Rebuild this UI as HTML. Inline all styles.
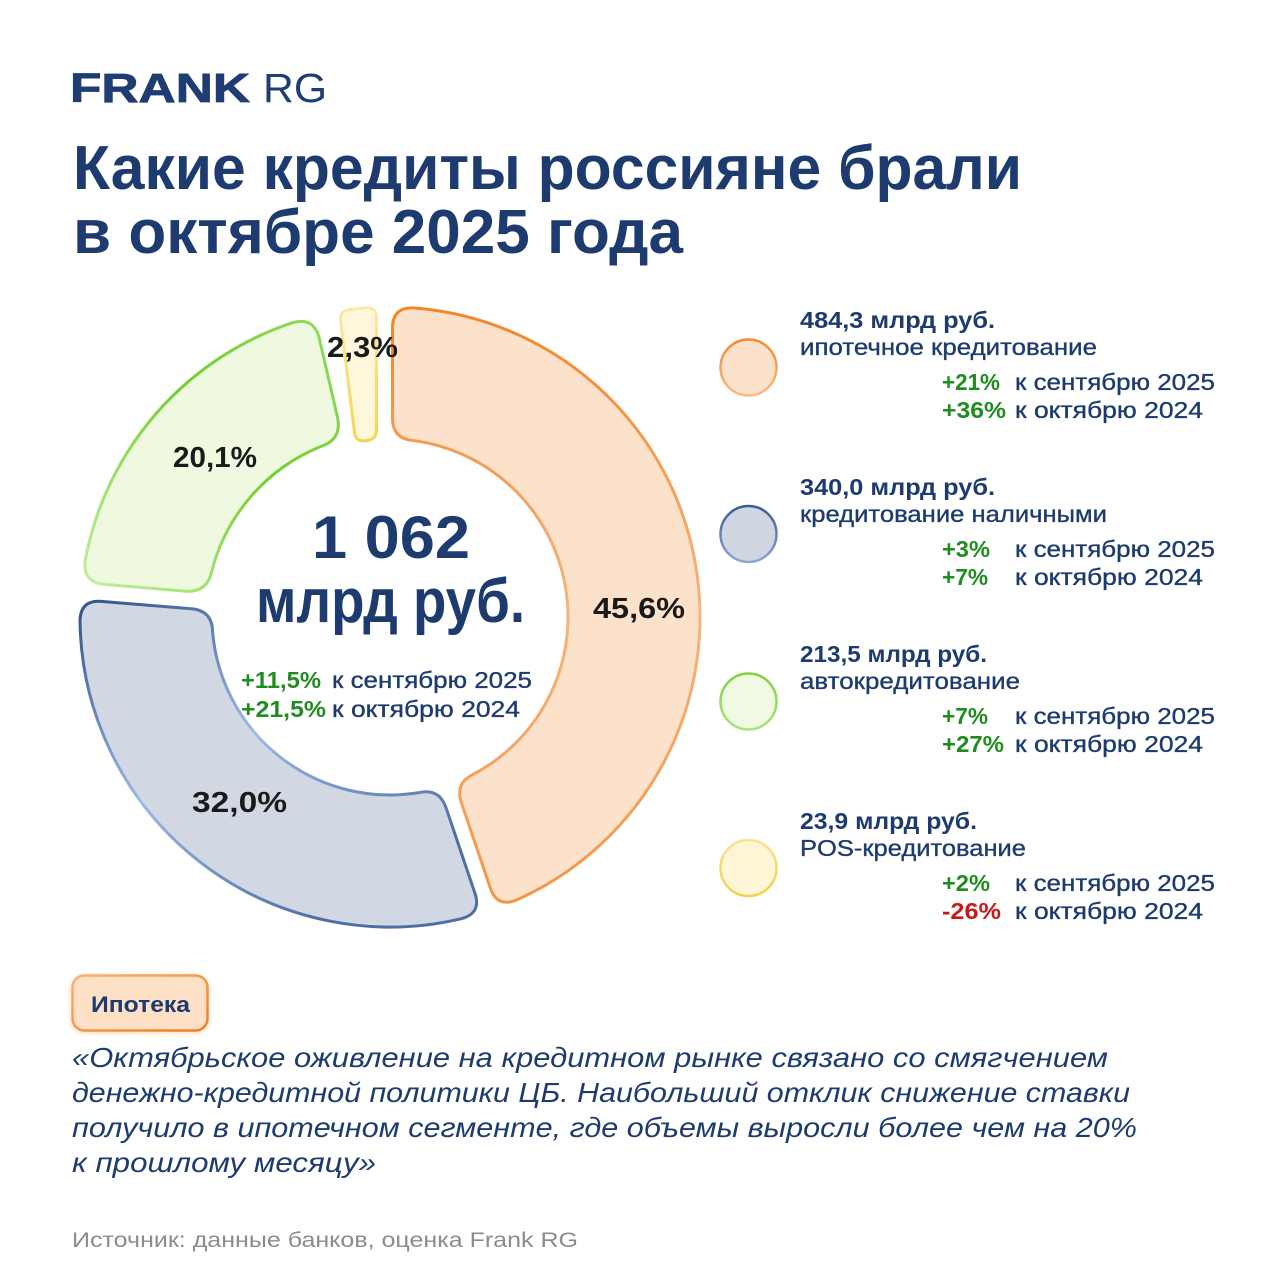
<!DOCTYPE html>
<html>
<head>
<meta charset="utf-8">
<style>
html,body{margin:0;padding:0;background:#ffffff;}
svg{display:block;}
text{font-family:"Liberation Sans","DejaVu Sans",sans-serif;}
.m{stroke:#1d3b6f;stroke-width:0.35;}
</style>
</head>
<body>
<svg id="s" width="1280" height="1280" viewBox="0 0 1280 1280" xmlns="http://www.w3.org/2000/svg">
<defs>
  <linearGradient id="gO" gradientUnits="userSpaceOnUse" x1="0" y1="305" x2="0" y2="915">
    <stop offset="0" stop-color="#f0862a"/>
    <stop offset="0.5" stop-color="#f7b47e"/>
    <stop offset="1" stop-color="#f29442"/>
  </linearGradient>
  <linearGradient id="gB" gradientUnits="userSpaceOnUse" x1="100" y1="600" x2="300" y2="930">
    <stop offset="0" stop-color="#35558c"/>
    <stop offset="0.5" stop-color="#9db9e6"/>
    <stop offset="1" stop-color="#4f6ea3"/>
  </linearGradient>
  <linearGradient id="gG" gradientUnits="userSpaceOnUse" x1="90" y1="590" x2="330" y2="340">
    <stop offset="0" stop-color="#c2ee9e"/>
    <stop offset="0.6" stop-color="#72cd2e"/>
    <stop offset="1" stop-color="#8fd95a"/>
  </linearGradient>
  <linearGradient id="gY" gradientUnits="userSpaceOnUse" x1="0" y1="308" x2="0" y2="442">
    <stop offset="0" stop-color="#fbe9a4"/>
    <stop offset="1" stop-color="#f4d44e"/>
  </linearGradient>
  <linearGradient id="cO" x1="0" y1="0" x2="0" y2="1">
    <stop offset="0" stop-color="#f08a2e"/><stop offset="1" stop-color="#f8bb8c"/>
  </linearGradient>
  <linearGradient id="cB" x1="0" y1="0" x2="0" y2="1">
    <stop offset="0" stop-color="#3c5c92"/><stop offset="1" stop-color="#8aa6d6"/>
  </linearGradient>
  <linearGradient id="cG" x1="0" y1="0" x2="0" y2="1">
    <stop offset="0" stop-color="#7fd23e"/><stop offset="1" stop-color="#a8e378"/>
  </linearGradient>
  <linearGradient id="cY" x1="0" y1="0" x2="0" y2="1">
    <stop offset="0" stop-color="#f7e48e"/><stop offset="1" stop-color="#f2d048"/>
  </linearGradient>
  <linearGradient id="bg" x1="0" y1="0" x2="1" y2="1">
    <stop offset="0" stop-color="#f6b27a"/><stop offset="1" stop-color="#ef7f1e"/>
  </linearGradient>
  <filter id="sh" x="-20%" y="-30%" width="140%" height="160%">
    <feDropShadow dx="0" dy="1" stdDeviation="2" flood-color="#f08a2e" flood-opacity="0.35"/>
  </filter>
</defs>

<!-- Logo -->
<text x="70" y="102" font-size="41" font-weight="bold" fill="#1f3d72" stroke="#1f3d72" stroke-width="0.8" textLength="180" lengthAdjust="spacingAndGlyphs">FRANK</text>
<text x="263" y="102" font-size="41" font-weight="normal" fill="#1f3d72" textLength="64" lengthAdjust="spacingAndGlyphs">RG</text>

<!-- Title -->
<text x="73" y="189" font-size="62" font-weight="bold" fill="#1d3b6f" textLength="949" lengthAdjust="spacingAndGlyphs">Какие кредиты россияне брали</text>
<text x="73" y="253" font-size="62" font-weight="bold" fill="#1d3b6f" textLength="610" lengthAdjust="spacingAndGlyphs">в октябре 2025 года</text>

<!-- Donut segments -->
<path id="pO" fill="#fde2cb" stroke="url(#gO)" stroke-width="3"/>
<path id="pB" fill="#d1d8e3" stroke="url(#gB)" stroke-width="3"/>
<path id="pG" fill="#eef9df" stroke="url(#gG)" stroke-width="3"/>
<path id="pY" fill="#fff7db" stroke="url(#gY)" stroke-width="3"/>

<!-- Donut labels -->
<text x="593" y="618" font-size="29" font-weight="bold" fill="#1a1a1a" textLength="92" lengthAdjust="spacingAndGlyphs">45,6%</text>
<text x="192" y="812" font-size="29" font-weight="bold" fill="#1a1a1a" textLength="95" lengthAdjust="spacingAndGlyphs">32,0%</text>
<text x="173" y="467" font-size="29" font-weight="bold" fill="#1a1a1a" textLength="84" lengthAdjust="spacingAndGlyphs">20,1%</text>
<text x="327" y="357" font-size="29" font-weight="bold" fill="#1a1a1a" textLength="71" lengthAdjust="spacingAndGlyphs">2,3%</text>

<!-- Center -->
<text x="312" y="558" font-size="60" font-weight="bold" fill="#1d3b6f" textLength="158" lengthAdjust="spacingAndGlyphs">1 062</text>
<text x="256" y="622" font-size="62" font-weight="bold" fill="#1d3b6f" textLength="269" lengthAdjust="spacingAndGlyphs">млрд руб.</text>
<text x="241" y="688" font-size="23" font-weight="bold" fill="#1e8c1e" textLength="80" lengthAdjust="spacingAndGlyphs">+11,5%</text>
<text class="m" x="332" y="688" font-size="23" fill="#1d3b6f" textLength="200" lengthAdjust="spacingAndGlyphs">к сентябрю 2025</text>
<text x="241" y="717" font-size="23" font-weight="bold" fill="#1e8c1e" textLength="85" lengthAdjust="spacingAndGlyphs">+21,5%</text>
<text class="m" x="332" y="717" font-size="23" fill="#1d3b6f" textLength="188" lengthAdjust="spacingAndGlyphs">к октябрю 2024</text>

<!-- Legend circles -->
<circle cx="748.5" cy="367.5" r="28" fill="#fde2cb" stroke="url(#cO)" stroke-width="2.5"/>
<circle cx="748.5" cy="534" r="28" fill="#cfd6e2" stroke="url(#cB)" stroke-width="2.5"/>
<circle cx="748.5" cy="701.5" r="28" fill="#f0fae3" stroke="url(#cG)" stroke-width="2.5"/>
<circle cx="748.5" cy="868" r="28" fill="#fff6d8" stroke="url(#cY)" stroke-width="2.5"/>

<!-- Legend block 1 -->
<text x="800" y="328" font-size="23" font-weight="bold" fill="#1d3b6f" textLength="195" lengthAdjust="spacingAndGlyphs">484,3 млрд руб.</text>
<text class="m" x="800" y="355" font-size="23" fill="#1d3b6f" textLength="297" lengthAdjust="spacingAndGlyphs">ипотечное кредитование</text>
<text x="942" y="390" font-size="23" font-weight="bold" fill="#1e8c1e" textLength="58" lengthAdjust="spacingAndGlyphs">+21%</text>
<text class="m" x="1015" y="390" font-size="23" fill="#1d3b6f" textLength="200" lengthAdjust="spacingAndGlyphs">к сентябрю 2025</text>
<text x="942" y="418" font-size="23" font-weight="bold" fill="#1e8c1e" textLength="64" lengthAdjust="spacingAndGlyphs">+36%</text>
<text class="m" x="1015" y="418" font-size="23" fill="#1d3b6f" textLength="188" lengthAdjust="spacingAndGlyphs">к октябрю 2024</text>

<!-- Legend block 2 -->
<text x="800" y="495" font-size="23" font-weight="bold" fill="#1d3b6f" textLength="195" lengthAdjust="spacingAndGlyphs">340,0 млрд руб.</text>
<text class="m" x="800" y="522" font-size="23" fill="#1d3b6f" textLength="307" lengthAdjust="spacingAndGlyphs">кредитование наличными</text>
<text x="942" y="557" font-size="23" font-weight="bold" fill="#1e8c1e" textLength="48" lengthAdjust="spacingAndGlyphs">+3%</text>
<text class="m" x="1015" y="557" font-size="23" fill="#1d3b6f" textLength="200" lengthAdjust="spacingAndGlyphs">к сентябрю 2025</text>
<text x="942" y="585" font-size="23" font-weight="bold" fill="#1e8c1e" textLength="46" lengthAdjust="spacingAndGlyphs">+7%</text>
<text class="m" x="1015" y="585" font-size="23" fill="#1d3b6f" textLength="188" lengthAdjust="spacingAndGlyphs">к октябрю 2024</text>

<!-- Legend block 3 -->
<text x="800" y="662" font-size="23" font-weight="bold" fill="#1d3b6f" textLength="187" lengthAdjust="spacingAndGlyphs">213,5 млрд руб.</text>
<text class="m" x="800" y="689" font-size="23" fill="#1d3b6f" textLength="220" lengthAdjust="spacingAndGlyphs">автокредитование</text>
<text x="942" y="724" font-size="23" font-weight="bold" fill="#1e8c1e" textLength="46" lengthAdjust="spacingAndGlyphs">+7%</text>
<text class="m" x="1015" y="724" font-size="23" fill="#1d3b6f" textLength="200" lengthAdjust="spacingAndGlyphs">к сентябрю 2025</text>
<text x="942" y="752" font-size="23" font-weight="bold" fill="#1e8c1e" textLength="62" lengthAdjust="spacingAndGlyphs">+27%</text>
<text class="m" x="1015" y="752" font-size="23" fill="#1d3b6f" textLength="188" lengthAdjust="spacingAndGlyphs">к октябрю 2024</text>

<!-- Legend block 4 -->
<text x="800" y="829" font-size="23" font-weight="bold" fill="#1d3b6f" textLength="177" lengthAdjust="spacingAndGlyphs">23,9 млрд руб.</text>
<text class="m" x="800" y="856" font-size="23" fill="#1d3b6f" textLength="226" lengthAdjust="spacingAndGlyphs">POS-кредитование</text>
<text x="942" y="891" font-size="23" font-weight="bold" fill="#1e8c1e" textLength="48" lengthAdjust="spacingAndGlyphs">+2%</text>
<text class="m" x="1015" y="891" font-size="23" fill="#1d3b6f" textLength="200" lengthAdjust="spacingAndGlyphs">к сентябрю 2025</text>
<text x="942" y="919" font-size="23" font-weight="bold" fill="#c81818" textLength="59" lengthAdjust="spacingAndGlyphs">-26%</text>
<text class="m" x="1015" y="919" font-size="23" fill="#1d3b6f" textLength="188" lengthAdjust="spacingAndGlyphs">к октябрю 2024</text>

<!-- Badge -->
<rect x="72.5" y="975.5" width="135" height="55" rx="12" ry="12" fill="#fde0c6" stroke="url(#bg)" stroke-width="2.5" filter="url(#sh)"/>
<text x="91" y="1012" font-size="22" font-weight="bold" fill="#1d3b6f" textLength="99" lengthAdjust="spacingAndGlyphs">Ипотека</text>

<!-- Quote -->
<text x="72" y="1067" font-size="28" font-style="italic" fill="#1d3b6f" textLength="1036" lengthAdjust="spacingAndGlyphs">«Октябрьское оживление на кредитном рынке связано со смягчением</text>
<text x="72" y="1102" font-size="28" font-style="italic" fill="#1d3b6f" textLength="1058" lengthAdjust="spacingAndGlyphs">денежно-кредитной политики ЦБ. Наибольший отклик снижение ставки</text>
<text x="72" y="1137" font-size="28" font-style="italic" fill="#1d3b6f" textLength="1065" lengthAdjust="spacingAndGlyphs">получило в ипотечном сегменте, где объемы выросли более чем на 20%</text>
<text x="72" y="1172" font-size="28" font-style="italic" fill="#1d3b6f" textLength="304" lengthAdjust="spacingAndGlyphs">к прошлому месяцу»</text>

<!-- Source -->
<text x="72" y="1247" font-size="21" fill="#8c8c8c" textLength="506" lengthAdjust="spacingAndGlyphs">Источник: данные банков, оценка Frank RG</text>
</svg>

<script>
(function(){
  var cx=390, cy=617;
  function P(r,a){var t=a*Math.PI/180;return [cx+r*Math.sin(t), cy-r*Math.cos(t)];}
  function lerp(p,q,d){var dx=q[0]-p[0],dy=q[1]-p[1];var L=Math.sqrt(dx*dx+dy*dy);return [p[0]+dx*d/L,p[1]+dy*d/L];}
  function f(p){return p[0].toFixed(2)+' '+p[1].toFixed(2);}
  function seg(R,r,aSo,aSi,aEo,aEi,c){
    var So=P(R,aSo),Si=P(r,aSi),Eo=P(R,aEo),Ei=P(r,aEi);
    var dR=c/R*180/Math.PI, dr=c/r*180/Math.PI;
    var lo=(aEo-aSo-2*dR)>180?1:0, li=(aEi-aSi-2*dr)>180?1:0;
    return 'M'+f(lerp(So,Si,c))+
      ' Q'+f(So)+' '+f(P(R,aSo+dR))+
      ' A'+R+' '+R+' 0 '+lo+' 1 '+f(P(R,aEo-dR))+
      ' Q'+f(Eo)+' '+f(lerp(Eo,Ei,c))+
      ' L'+f(lerp(Ei,Eo,c))+
      ' Q'+f(Ei)+' '+f(P(r,aEi-dr))+
      ' A'+r+' '+r+' 0 '+li+' 0 '+f(P(r,aSi+dr))+
      ' Q'+f(Si)+' '+f(lerp(Si,So,c))+' Z';
  }
  document.getElementById('pO').setAttribute('d',seg(310,178,0.46,0.8,159.8,158.7,21));
  document.getElementById('pB').setAttribute('d',seg(310,178,162.8,163.9,273.2,272.1,21));
  document.getElementById('pG').setAttribute('d',seg(310,184,276.4,277.45,345.85,345.06,23));
  document.getElementById('pY').setAttribute('d',seg(310,178,350.6,348.9,357.5,355.65,10));
})();
</script>
</body>
</html>
